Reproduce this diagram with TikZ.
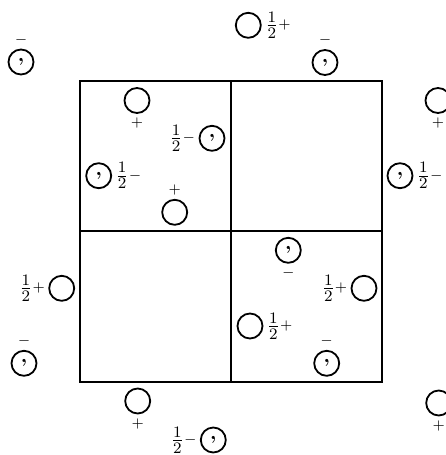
\documentclass[tikz,border=0pt]{standalone}
\usepackage{tikz}
\usetikzlibrary{positioning}

\newcommand{\hplus}{$\frac12\raisebox{1pt}{\normalsize$\scriptstyle+$}$}
\newcommand{\hminus}{$\frac12\raisebox{1pt}{\normalsize$\scriptstyle-$}$}

\begin{document}
\begin{tikzpicture} [x=0.5pt,y=-0.5pt,
    ring/.style={circle, draw, line width=0.9pt, minimum size=12.5pt, inner sep=0pt},
    hand/.style={ring, font=\bfseries},
    sign/.style={inner sep=0pt, on grid},
    half/.style={inner sep=0pt, font=\fontsize{11}{13}\selectfont},
    cell/.style={line width=0.9pt}
    ]
    \useasboundingbox (0,0) rectangle (445,455);
    \draw [cell] (80,81) rectangle (382,382);
    \draw [cell] (231,81) -- (231,382);
    \draw [cell] (80,231) -- (382,231);

    \node (c1) [hand] at (21,62) {,};
    \node (s1) [sign, above=11.25pt of c1] {$\scriptstyle-$};
    \node (c2) [ring] at (137,100.5) {};
    \node (s2) [sign, below=11.25pt of c2] {$\scriptstyle+$};
    \node (c3) [hand] at (212,138.3) {,};
    \node (h3) [half, left=1.5pt of c3] {\hminus};
    \node (c4) [hand] at (98.7,175.7) {,};
    \node (h4) [half, right=1.5pt of c4] {\hminus};
    \node (c5) [ring] at (174.7,212.3) {};
    \node (s5) [sign, above=11.25pt of c5] {$\scriptstyle+$};

    \node (c6) [ring] at (248.3,25.3) {};
    \node (h6) [half, right=1.5pt of c6] {\hplus};
    \node (c7) [hand] at (325,62.5) {,};
    \node (s7) [sign, above=11.25pt of c7] {$\scriptstyle-$};
    \node (c8) [ring] at (438,100.5) {};
    \node (s8) [sign, below=11.25pt of c8] {$\scriptstyle+$};
    \node (c9) [hand] at (400,175.7) {,};
    \node (h9) [half, right=1.5pt of c9] {\hminus};

    \node (c10) [ring] at (61.7,288.3) {};
    \node (h10) [half, left=1.5pt of c10] {\hplus};
    \node (c11) [hand] at (24,363.3) {,};
    \node (s11) [sign, above=11.25pt of c11] {$\scriptstyle-$};
    \node (c12) [ring] at (137.7,401) {};
    \node (s12) [sign, below=11.25pt of c12] {$\scriptstyle+$};
    \node (c13) [hand] at (213.3,440) {,};
    \node (h13) [half, left=1.5pt of c13] {\hminus};

    \node (c14) [hand] at (288.3,250.3) {,};
    \node (s14) [sign, below=11.25pt of c14] {$\scriptstyle-$};
    \node (c15) [ring] at (364,288.3) {};
    \node (h15) [half, left=1.5pt of c15] {\hplus};
    \node (c16) [ring] at (250,326) {};
    \node (h16) [half, right=1.5pt of c16] {\hplus};
    \node (c17) [hand] at (326.7,363.3) {,};
    \node (s17) [sign, above=11.25pt of c17] {$\scriptstyle-$};
    \node (c18) [ring] at (438.7,403) {};
    \node (s18) [sign, below=11.25pt of c18] {$\scriptstyle+$};
  \end{tikzpicture}
\end{document}
